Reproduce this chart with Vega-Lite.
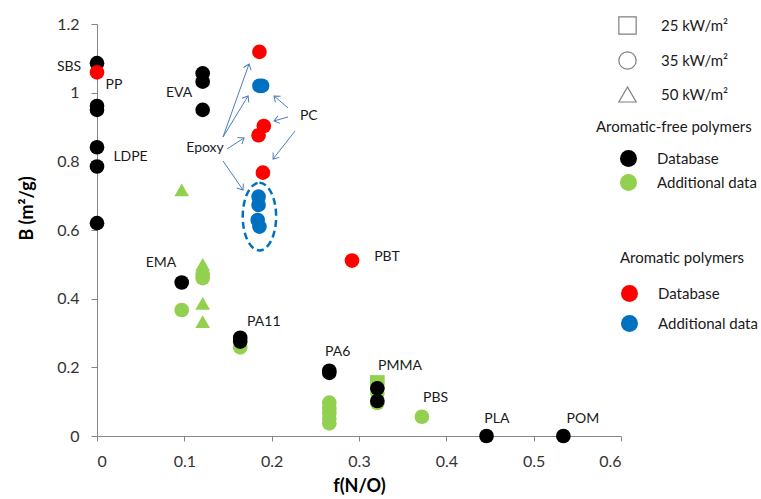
{
  "$schema": "https://vega.github.io/schema/vega-lite/v6.json",
  "width": 524,
  "height": 412,
  "autosize": {"type": "none"},
  "padding": {"left": 97, "top": 24, "right": 140, "bottom": 63},
  "background": "white",
  "config": {
    "view": {"stroke": null},
    "font": "Lato",
    "axis": {
      "grid": false,
      "domainColor": "#868686",
      "tickColor": "#868686",
      "labelFont": "Lato",
      "labelFontSize": 16,
      "labelColor": "#333333",
      "titleFont": "Lato",
      "titleFontSize": 18,
      "titleFontWeight": "bold",
      "titleColor": "#000000"
    },
    "legend": {
      "labelFont": "Lato",
      "labelFontSize": 15,
      "labelColor": "#1a1a1a",
      "titleFont": "Lato",
      "titleFontSize": 15,
      "titleFontWeight": "normal",
      "titleColor": "#1a1a1a",
      "padding": 0
    }
  },
  "datasets": {
    "free": [
      {"x": 0.097, "y": 0.717, "source": "Additional data", "flux": "50 kW/m²"},
      {"x": 0.121, "y": 0.5, "source": "Additional data", "flux": "50 kW/m²"},
      {"x": 0.121, "y": 0.386, "source": "Additional data", "flux": "50 kW/m²"},
      {"x": 0.121, "y": 0.333, "source": "Additional data", "flux": "50 kW/m²"},
      {"x": 0.321, "y": 0.156, "source": "Additional data", "flux": "25 kW/m²"},
      {"x": 0.097, "y": 0.367, "source": "Additional data", "flux": "35 kW/m²"},
      {"x": 0.121, "y": 0.47, "source": "Additional data", "flux": "35 kW/m²"},
      {"x": 0.121, "y": 0.46, "source": "Additional data", "flux": "35 kW/m²"},
      {"x": 0.164, "y": 0.258, "source": "Additional data", "flux": "35 kW/m²"},
      {"x": 0.266, "y": 0.097, "source": "Additional data", "flux": "35 kW/m²"},
      {"x": 0.266, "y": 0.08, "source": "Additional data", "flux": "35 kW/m²"},
      {"x": 0.266, "y": 0.066, "source": "Additional data", "flux": "35 kW/m²"},
      {"x": 0.266, "y": 0.05, "source": "Additional data", "flux": "35 kW/m²"},
      {"x": 0.266, "y": 0.037, "source": "Additional data", "flux": "35 kW/m²"},
      {"x": 0.321, "y": 0.125, "source": "Additional data", "flux": "35 kW/m²"},
      {"x": 0.321, "y": 0.096, "source": "Additional data", "flux": "35 kW/m²"},
      {"x": 0.372, "y": 0.056, "source": "Additional data", "flux": "35 kW/m²"},
      {"x": 0, "y": 1.086, "source": "Database", "flux": "35 kW/m²"},
      {"x": 0, "y": 0.961, "source": "Database", "flux": "35 kW/m²"},
      {"x": 0, "y": 0.95, "source": "Database", "flux": "35 kW/m²"},
      {"x": 0, "y": 0.841, "source": "Database", "flux": "35 kW/m²"},
      {"x": 0, "y": 0.785, "source": "Database", "flux": "35 kW/m²"},
      {"x": 0, "y": 0.62, "source": "Database", "flux": "35 kW/m²"},
      {"x": 0.121, "y": 1.056, "source": "Database", "flux": "35 kW/m²"},
      {"x": 0.121, "y": 1.032, "source": "Database", "flux": "35 kW/m²"},
      {"x": 0.121, "y": 0.95, "source": "Database", "flux": "35 kW/m²"},
      {"x": 0.097, "y": 0.447, "source": "Database", "flux": "35 kW/m²"},
      {"x": 0.164, "y": 0.286, "source": "Database", "flux": "35 kW/m²"},
      {"x": 0.164, "y": 0.275, "source": "Database", "flux": "35 kW/m²"},
      {"x": 0.266, "y": 0.19, "source": "Database", "flux": "35 kW/m²"},
      {"x": 0.266, "y": 0.184, "source": "Database", "flux": "35 kW/m²"},
      {"x": 0.321, "y": 0.139, "source": "Database", "flux": "35 kW/m²"},
      {"x": 0.321, "y": 0.102, "source": "Database", "flux": "35 kW/m²"},
      {"x": 0.446, "y": 0, "source": "Database", "flux": "35 kW/m²"},
      {"x": 0.534, "y": 0, "source": "Database", "flux": "35 kW/m²"}
    ],
    "aromatic": [
      {"x": 0, "y": 1.059, "source": "Database"},
      {"x": 0.186, "y": 1.119, "source": "Database"},
      {"x": 0.191, "y": 0.903, "source": "Database"},
      {"x": 0.185, "y": 0.876, "source": "Database"},
      {"x": 0.19, "y": 0.767, "source": "Database"},
      {"x": 0.292, "y": 0.511, "source": "Database"},
      {"x": 0.186, "y": 1.02, "source": "Additional data"},
      {"x": 0.189, "y": 1.02, "source": "Additional data"},
      {"x": 0.185, "y": 0.697, "source": "Additional data"},
      {"x": 0.185, "y": 0.673, "source": "Additional data"},
      {"x": 0.184, "y": 0.629, "source": "Additional data"},
      {"x": 0.186, "y": 0.61, "source": "Additional data"}
    ],
    "names": [
      {"x": -0.032, "y": 1.075, "label": "SBS"},
      {"x": 0.0195, "y": 1.022, "label": "PP"},
      {"x": 0.0384, "y": 0.813, "label": "LDPE"},
      {"x": 0.094, "y": 0.998, "label": "EVA"},
      {"x": 0.1237, "y": 0.838, "label": "Epoxy"},
      {"x": 0.2425, "y": 0.932, "label": "PC"},
      {"x": 0.0733, "y": 0.505, "label": "EMA"},
      {"x": 0.191, "y": 0.333, "label": "PA11"},
      {"x": 0.2757, "y": 0.2456, "label": "PA6"},
      {"x": 0.347, "y": 0.204, "label": "PMMA"},
      {"x": 0.3876, "y": 0.1116, "label": "PBS"},
      {"x": 0.4578, "y": 0.0495, "label": "PLA"},
      {"x": 0.5563, "y": 0.0495, "label": "POM"},
      {"x": 0.332, "y": 0.522, "label": "PBT"}
    ],
    "pointers": [
      {"x": 0.1741, "y": 1.0836, "x_from": 0.1443, "y_from": 0.8709},
      {"x": 0.173, "y": 0.9904, "x_from": 0.1443, "y_from": 0.8709},
      {"x": 0.1684, "y": 0.868, "x_from": 0.1489, "y_from": 0.836},
      {"x": 0.1672, "y": 0.7166, "x_from": 0.1443, "y_from": 0.801},
      {"x": 0.2027, "y": 0.9904, "x_from": 0.2188, "y_from": 0.9555},
      {"x": 0.2027, "y": 0.9176, "x_from": 0.2188, "y_from": 0.9293},
      {"x": 0.2016, "y": 0.8068, "x_from": 0.2268, "y_from": 0.8884}
    ],
    "ring": [
      {"x": 0.186, "y": 0.639}
    ]
  },
  "encoding": {
    "x": {
      "field": "x",
      "type": "quantitative",
      "scale": {"domain": [0, 0.6], "nice": false, "zero": false},
      "axis": {
        "title": "f(N/O)",
        "values": [0, 0.1, 0.2, 0.3, 0.4, 0.5, 0.6],
        "format": "~g",
        "tickSize": 5,
        "labelPadding": 12,
        "titlePadding": 8
      }
    },
    "y": {
      "field": "y",
      "type": "quantitative",
      "scale": {"domain": [0, 1.2], "nice": false, "zero": false},
      "axis": {
        "title": "B (m²/g)",
        "values": [0, 0.2, 0.4, 0.6, 0.8, 1, 1.2],
        "format": "~g",
        "tickSize": 6,
        "labelPadding": 12,
        "titlePadding": 20,
        "titleY": 184
      }
    }
  },
  "layer": [
    {
      "data": {"name": "ring"},
      "mark": {
        "type": "point",
        "shape": "M 0 -1 A 0.494 1 0 1 1 0 1 A 0.494 1 0 1 1 0 -1 Z",
        "size": 4570,
        "filled": false,
        "stroke": "#0070c0",
        "strokeWidth": 2.5,
        "strokeDash": [7, 4],
        "opacity": 1
      }
    },
    {
      "data": {"name": "pointers"},
      "mark": {"type": "rule", "color": "#4a7ebb", "strokeWidth": 1},
      "encoding": {
        "x2": {"field": "x_from"},
        "y2": {"field": "y_from"}
      }
    },
    {
      "data": {"name": "pointers"},
      "mark": {
        "type": "point",
        "shape": "M -1 1.3 L 0 0 L 1 1.3",
        "size": 64,
        "filled": false,
        "color": "#4a7ebb",
        "strokeWidth": 1,
        "opacity": 1,
        "angle": {"expr": "atan2(scale('x', datum.x) - scale('x', datum.x_from), scale('y', datum.y_from) - scale('y', datum.y)) * 180 / PI"}
      }
    },
    {
      "data": {"name": "names"},
      "mark": {
        "type": "text",
        "font": "Lato",
        "fontSize": 14,
        "color": "#1a1a1a",
        "align": "center",
        "baseline": "middle"
      },
      "encoding": {
        "text": {"field": "label", "type": "nominal"}
      }
    },
    {
      "data": {"name": "free"},
      "mark": {"type": "point", "filled": true, "opacity": 1, "size": 215},
      "encoding": {
        "color": {
          "field": "source",
          "type": "nominal",
          "scale": {"domain": ["Database", "Additional data"], "range": ["#000000", "#92d050"]},
          "legend": {
            "title": "Aromatic-free polymers",
            "orient": "none",
            "legendX": 499,
            "legendY": 96,
            "symbolType": "circle",
            "symbolSize": 289,
            "symbolOffset": 23,
            "labelOffset": 19,
            "rowPadding": 6,
            "titlePadding": 14
          }
        },
        "shape": {
          "field": "flux",
          "type": "nominal",
          "scale": {"domain": ["25 kW/m²", "35 kW/m²", "50 kW/m²"], "range": ["square", "circle", "triangle-up"]},
          "legend": {
            "title": null,
            "orient": "none",
            "legendX": 521,
            "legendY": -8,
            "symbolSize": 300,
            "symbolFillColor": "white",
            "symbolStrokeColor": "#7f7f7f",
            "symbolStrokeWidth": 1.2,
            "labelOffset": 24,
            "rowPadding": 12,
            "encode": {
              "symbols": {
                "fill": {"value": "white"},
                "stroke": {"value": "#7f7f7f"},
                "strokeWidth": {"value": 1.2},
                "opacity": {"value": 1}
              }
            }
          }
        }
      }
    },
    {
      "data": {"name": "aromatic"},
      "mark": {"type": "point", "shape": "circle", "filled": true, "opacity": 1, "size": 215},
      "encoding": {
        "color": {
          "field": "source",
          "type": "nominal",
          "scale": {"domain": ["Database", "Additional data"], "range": ["#ff0000", "#0070c0"]},
          "legend": {
            "title": "Aromatic polymers",
            "orient": "none",
            "legendX": 523,
            "legendY": 227,
            "symbolType": "circle",
            "symbolSize": 289,
            "symbolOffset": 0,
            "labelOffset": 19,
            "rowPadding": 12,
            "titlePadding": 18
          }
        }
      }
    }
  ],
  "resolve": {
    "scale": {"color": "independent"},
    "legend": {"color": "independent"}
  }
}
